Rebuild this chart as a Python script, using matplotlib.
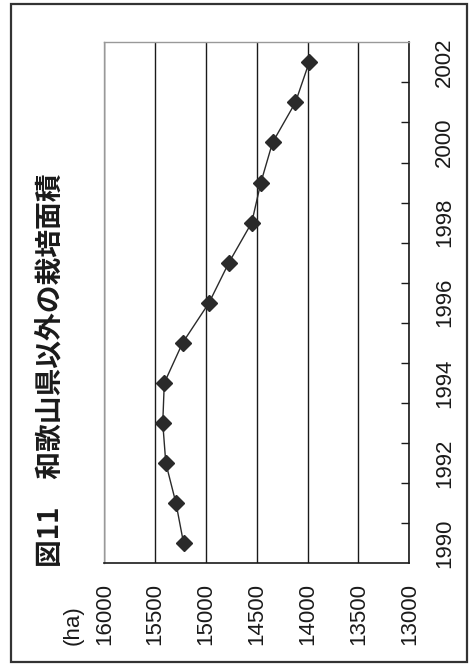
import matplotlib
matplotlib.use("Agg")
import matplotlib.pyplot as plt
from matplotlib.patches import Rectangle

years = [1990, 1991, 1992, 1993, 1994, 1995, 1996, 1997, 1998, 1999, 2000, 2001, 2002]
area_ha = [15220, 15295, 15395, 15425, 15410, 15230, 14970, 14775, 14550, 14460, 14345, 14120, 13985]
value_ticks = [13000, 13500, 14000, 14500, 15000, 15500, 16000]
year_labels = ["1990", "", "1992", "", "1994", "", "1996", "", "1998", "", "2000", "", "2002"]
title = "図11　和歌山県以外の栽培面積"
unit = "(ha)"

plt.rcParams['font.family'] = ['Liberation Sans', 'DejaVu Sans']

fig = plt.figure(figsize=(4.72, 6.66), dpi=100)
ax = fig.add_axes([104.3/472, 1 - 563.3/666, (409.3-104.3)/472, (563.3-42.3)/666])

idx = list(range(len(years)))
ax.plot(area_ha, idx, color='#2a2a2a', lw=1.0, marker='D', markersize=8.2,
        markerfacecolor='#2a2a2a', markeredgecolor='#2a2a2a', zorder=3)

ax.set_xlim(16000, 13000)
ax.set_ylim(-0.5, len(years) - 0.5)

# value axis (bottom)
ax.set_xticks(value_ticks)
ax.set_xticklabels([str(v) for v in value_ticks], rotation=90, fontsize=16)
ax.tick_params(axis='x', length=0, pad=14, colors='#1a1a1a')
ax.grid(axis='x', color='#1a1a1a', lw=1.0)
ax.set_axisbelow(True)

# category axis (right)
ax.yaxis.tick_right()
ax.set_yticks(idx)
ax.set_yticklabels(year_labels, rotation=90, va='center', fontsize=16)
ax.set_yticks([i + 0.5 for i in idx[:-1]], minor=True)
ax.tick_params(axis='y', which='major', length=0, pad=18, colors='#1a1a1a')
ax.tick_params(axis='y', which='minor', length=6, direction='in', width=1.0, color='#1a1a1a')
ax.tick_params(axis='y', which='both', left=False)

for s in ['top', 'left']:
    ax.spines[s].set_color('#999999')
    ax.spines[s].set_linewidth(1.0)
for s in ['right', 'bottom']:
    ax.spines[s].set_color('#1a1a1a')
    ax.spines[s].set_linewidth(1.2)

fig.text(50/472, 1 - 567/666, title, rotation=90, ha='center', va='bottom',
         fontsize=20, fontweight='bold', family=['Noto Sans CJK JP', 'DejaVu Sans'],
         color='#1a1a1a')
fig.text(73/472, 1 - 645/666, unit, rotation=90, ha='center', va='bottom',
         fontsize=16, color='#1a1a1a')

fig.patches.append(Rectangle((11/472, 1 - 662/666), (467-11)/472, (662-4)/666,
                             transform=fig.transFigure, fill=False,
                             edgecolor='#333333', lw=1.6))

fig.savefig("out.png", dpi=100, facecolor='white')
